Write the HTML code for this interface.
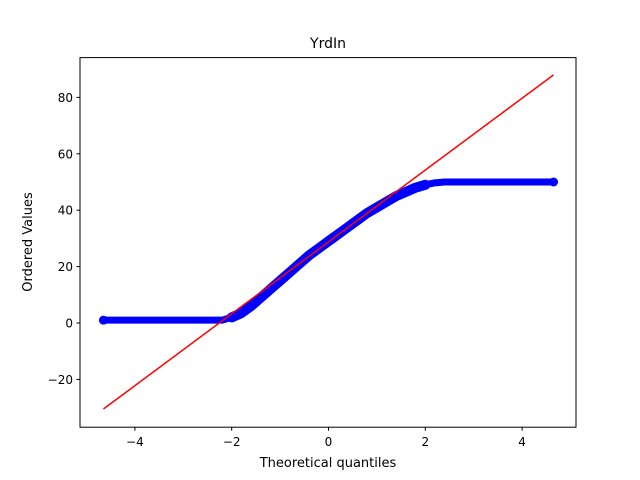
<!DOCTYPE html>
<html><head><meta charset="utf-8"><style>
html,body{margin:0;padding:0;background:#fff;}
svg{display:block;font-family:"DejaVu Sans","Liberation Sans",sans-serif;}
</style></head><body>
<svg id="chart" width="640" height="480" viewBox="0 0 640 480">
<rect width="640" height="480" fill="#fff"/>
<g id="plot"></g>
<rect x="80" y="57.6" width="496" height="369.6" fill="none" stroke="#000" stroke-width="1"/>
<g id="xt"></g><g id="yt"></g>
<text x="328" y="48" text-anchor="middle" font-size="14">YrdIn</text>
<text x="328" y="467" text-anchor="middle" font-size="13">Theoretical quantiles</text>
<text transform="translate(32,242) rotate(-90)" text-anchor="middle" font-size="13">Ordered Values</text>
</svg>
<script>
const qx=[-4.65,-4.4,-3.5,-3,-2.5,-2.2,-2.0,-1.8,-1.6,-1.4,-1.2,-1.0,-0.8,-0.6,-0.4,-0.2,0,0.2,0.4,0.6,0.8,1.0,1.2,1.4,1.6,1.8,2.0,2.2,2.4,3,3.5,4.4,4.65];
const qy=[1,1,1,1,1,1,2,3.5,6,9,12,15,18,21,24,26.5,29,31.5,34,36.5,39,41,43,45,46.5,48,49,49.7,50,50,50,50,50];
const lineX=[-4.65,4.65];
const lineY=[-30.5,88];
const xTicks=[-4,-2,0,2,4];
const yTicks=[-20,0,20,40,60,80];
const NS="http://www.w3.org/2000/svg";
const sx=v=>328.5+v*48.4;
const sy=v=>323-v*2.82;
const plot=document.getElementById('plot');
function mk(t,a,p){const e=document.createElementNS(NS,t);for(const k in a)e.setAttribute(k,a[k]);p.appendChild(e);return e;}
const band=mk('polyline',{points:qx.map((v,i)=>sx(v)+','+sy(qy[i])).join(' '),fill:'none',stroke:'#0000ff','stroke-width':7,'stroke-linejoin':'round','stroke-linecap':'round'},plot);


const mid=qx.map((v,i)=>[v,qy[i]]).filter(p=>p[0]>=-2&&p[0]<=2);
const band2=mk('polyline',{points:mid.map(p=>sx(p[0])+','+sy(p[1])).join(' '),fill:'none',stroke:'#0000ff','stroke-width':10,'stroke-linejoin':'round','stroke-linecap':'round'},plot);


[0,qx.length-1].forEach(i=>{const c=mk('circle',{cx:sx(qx[i]),cy:sy(qy[i]),r:4.5,fill:'#0000ff'},plot);

});
const ln=mk('line',{x1:sx(lineX[0]),y1:sy(lineY[0]),x2:sx(lineX[1]),y2:sy(lineY[1]),stroke:'#ff0000','stroke-width':1.5},plot);


const xt=document.getElementById('xt'),yt=document.getElementById('yt');
xTicks.forEach(v=>{const x=sx(v);mk('line',{x1:x,y1:427.2,x2:x,y2:430.7,stroke:'#000'},xt);
const t=mk('text',{x:x,y:446,'text-anchor':'middle','font-size':12},xt);t.textContent=(v<0?'\u2212':'')+Math.abs(v);

});
yTicks.forEach(v=>{const y=sy(v);mk('line',{x1:76.5,y1:y,x2:80,y2:y,stroke:'#000'},yt);
const t=mk('text',{x:73,y:y+4.5,'text-anchor':'end','font-size':12},yt);t.textContent=(v<0?'\u2212':'')+Math.abs(v);

});
</script>
</body></html>
